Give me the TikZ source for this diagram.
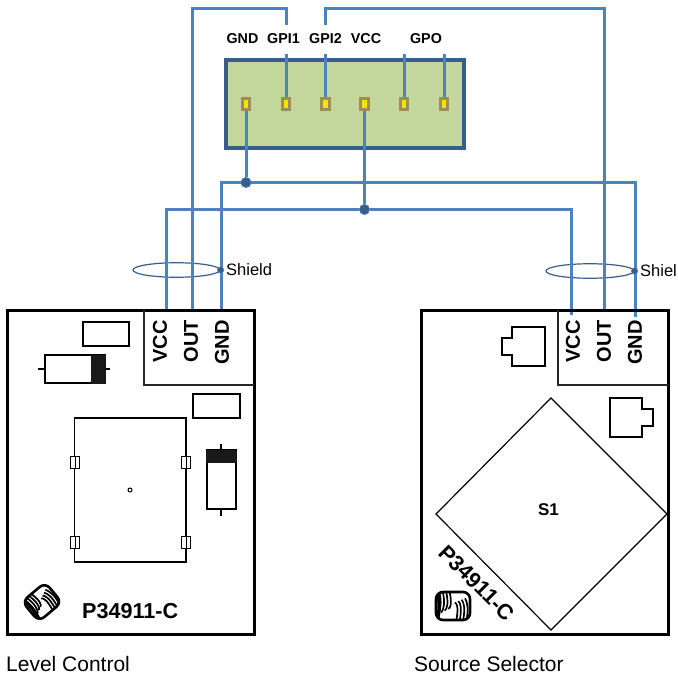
\documentclass[tikz,border=0pt]{standalone}
\usepackage{fontspec}
\usetikzlibrary{shapes.geometric}
\setmainfont{Liberation Sans}
\definecolor{wire}{HTML}{4F81BD}
\definecolor{darkwire}{HTML}{385D8A}
\definecolor{padedge}{HTML}{9C8C55}
\definecolor{padfill}{HTML}{F2E500}
\definecolor{connfill}{RGB}{195,214,155}
\tikzset{
  wireline/.style={draw=wire,line width=3pt},
  shieldring/.style={draw=darkwire,line width=1.2pt},
  jointdot/.style={circle,fill=darkwire,draw=wire,line width=.6pt,minimum size=10pt,inner sep=0pt},
  shielddot/.style={circle,fill=darkwire,draw=wire,line width=.4pt,minimum size=6.5pt,inner sep=0pt},
  padbox/.style={rectangle,draw=padedge,fill=padfill,line width=3pt,minimum width=7.5pt,minimum height=11.5pt,inner sep=0pt},
  pinlabel/.style={font=\bfseries\fontsize{14.3}{15}\selectfont,inner sep=0pt},
  sidelabel/.style={font=\bfseries\fontsize{20}{21}\selectfont,rotate=90,anchor=east,inner sep=0pt},
  partno/.style={font=\bfseries\fontsize{21.6}{22}\selectfont,inner sep=0pt},
  caption/.style={font=\fontsize{21}{22}\selectfont,anchor=west,inner sep=0pt},
  shieldtext/.style={font=\fontsize{16.5}{17}\selectfont,anchor=west,inner sep=0pt},
  board/.style={draw=black,line width=3pt},
  inset/.style={draw=black!85,line width=2pt},
  part/.style={draw=black,line width=1.3pt,fill=white},
  coil/.style={draw=black,line width=1.7pt},
}
% #1 centre, #2 rotation, #3 half length, #4 half height
\newcommand{\coilscrew}[4]{%
  \begin{scope}[shift={(#1)},rotate=#2]
    \draw[black,line width=2.6pt,fill=white,rounded corners=7pt] (-#3,-#4) rectangle (#3,#4);
    \begin{scope}
      \clip[rounded corners=7pt] (-#3,-#4) rectangle (#3,#4);
      \foreach \f in {.80,.60,.40,.20}{
        \draw[coil] ({-#3*\f},-#4) .. controls ({-#3*\f+2.5},{-#4*.2}) and ({-#3*\f+1},{#4*.2}) .. ({-#3*\f-1.5},{#4*(\f*.7+.05)});
        \draw[coil] ({#3*\f},#4) .. controls ({#3*\f+2},{#4*.2}) and ({#3*\f+1},{-#4*.2}) .. ({#3*\f-1.5},{-#4*(\f*.5+.15)});
      }
      \draw[black,line width=3.5pt] ({-#3+1},-#4) .. controls ({-#3+4},{-#4*.3}) and ({-#3+4},{#4*.3}) .. ({-#3+1},#4);
    \end{scope}
  \end{scope}}
\begin{document}
\begin{tikzpicture}[x=1pt,y=-1pt]
\useasboundingbox (0,0) rectangle (678,674);
\coordinate (lvcc) at (166,310);
\coordinate (lout) at (192,310);
\coordinate (lgnd) at (221,310);
\coordinate (rvcc) at (571,315);
\coordinate (rout) at (604,311);
\coordinate (rgnd) at (635,317);
\coordinate (gpa) at (286,25);
\coordinate (gpb) at (325.5,25);
\coordinate (gpc) at (286,54);
\coordinate (gpd) at (325.5,54);
\coordinate (gpe) at (404,54);
\coordinate (gpf) at (444,54);
\coordinate (tl) at (192,9);
\coordinate (tr) at (604,9);
% connector
\node[draw=darkwire,fill=connfill,line width=3.4pt,minimum width=238pt,minimum height=88pt,inner sep=0pt] (conn) at (345,104) {};
\foreach \n/\x in {1/246,2/286,3/325.5,4/364.5,5/404,6/444}{
  \node[padbox] (p\n) at (\x,104) {};
}
\node[pinlabel] (lgndtop) at (242.5,39) {GND};
\node[pinlabel] (lgpi1) at (283.5,39) {GPI1};
\node[pinlabel] (lgpi2) at (325.5,39) {GPI2};
\node[pinlabel] (lvcctop) at (366,39) {VCC};
\node[pinlabel] (lgpo) at (426,39) {GPO};
\node[jointdot] (jg) at (246,182.5) {};
\node[jointdot] (jv) at (364.5,209.5) {};
% shields
\node[shieldring,ellipse,minimum width=87pt,minimum height=14.5pt,inner sep=0pt] (ringl) at (176.5,270) {};
\node[shieldring,ellipse,minimum width=88pt,minimum height=14.5pt,inner sep=0pt] (ringr) at (590,271) {};
% wiring
\draw[wireline] (gpa) |- (tl) -- (lout);
\draw[wireline] (gpb) |- (tr) -- (rout);
\draw[wireline] (gpc) -- (p2.north);
\draw[wireline] (gpd) -- (p3.north);
\draw[wireline] (gpe) -- (p5.north);
\draw[wireline] (gpf) -- (p6.north);
\draw[wireline] (p1.south) -- (jg);
\draw[wireline] (p4.south) -- (jv);
\draw[wireline] (lgnd) |- (jg);
\draw[wireline] (rgnd) |- (jg);
\draw[wireline] (lvcc) |- (jv);
\draw[wireline] (rvcc) |- (jv);
\node[jointdot] at (jg) {};
\node[jointdot] at (jv) {};
\node[shielddot] (sdl) at (ringl.east) {};
\node[shielddot] (sdr) at (ringr.east) {};
\node[shieldtext] (shl) at (226,270) {Shield};
\node[shieldtext] (shr) at (640,271) {Shiel};
% left board
\draw[board] (7,310) rectangle (254,634);
\draw[inset] (144,310) |- (254,385);
\node[sidelabel] (a1) at (160,320) {VCC};
\node[sidelabel] (a2) at (191,320) {OUT};
\node[sidelabel] (a3) at (222,320) {GND};
\draw[part] (83,322) rectangle (129,346);
\draw[part] (193,394) rectangle (240,418);
\draw[part] (38,369) -- (110,369);
\draw[part] (45,355) rectangle (105,383);
\fill[black!90] (91,355) rectangle (105.6,383.6);
\draw[part,fill=none] (74.7,418) rectangle (186,562);
\foreach \xx in {75,186}{\foreach \yy in {462,542}{
  \draw[part,line width=1pt] (\xx-4.5,\yy-6) rectangle (\xx+4.5,\yy+6);
  \draw[black,line width=1pt] (\xx,\yy-6) -- (\xx,\yy+6);
}}
\draw[black,line width=1pt] (130,490) circle (2pt);
\draw[part] (221,444) -- (221,516);
\draw[part] (207,450) rectangle (236,509);
\fill[black!90] (206.4,450) rectangle (236.6,463);
\coilscrew{42,602}{40}{15}{13}
\node[partno,anchor=west] (pl) at (82,611) {P34911-C};
\node[caption] (cl) at (6,664) {Level Control};
% right board
\draw[board] (421,310) rectangle (668,634);
\draw[inset] (558,310) |- (668,385);
\node[sidelabel] (b1) at (573,320) {VCC};
\node[sidelabel] (b2) at (604,320) {OUT};
\node[sidelabel] (b3) at (635,320) {GND};
\draw[part] (512,327) -- (545,327) -- (545,366) -- (512,366) -- (512,355) -- (502,355) -- (502,338) -- (512,338) -- cycle;
\draw[part] (610,398) -- (642,398) -- (642,409) -- (653,409) -- (653,426) -- (642,426) -- (642,437) -- (610,437) -- cycle;
\draw[black,line width=1.2pt] (551,398) -- (667,514) -- (551,630) -- (436,514) -- cycle;
\node[font=\bfseries\fontsize{17}{18}\selectfont,inner sep=0pt] (s1) at (548.5,510) {S1};
\node[partno,rotate=-45] (pr) at (477,583) {P34911-C};
\coilscrew{453,606}{0}{17}{14}
\node[caption] (cr) at (414,664) {Source Selector};
\end{tikzpicture}
\end{document}
